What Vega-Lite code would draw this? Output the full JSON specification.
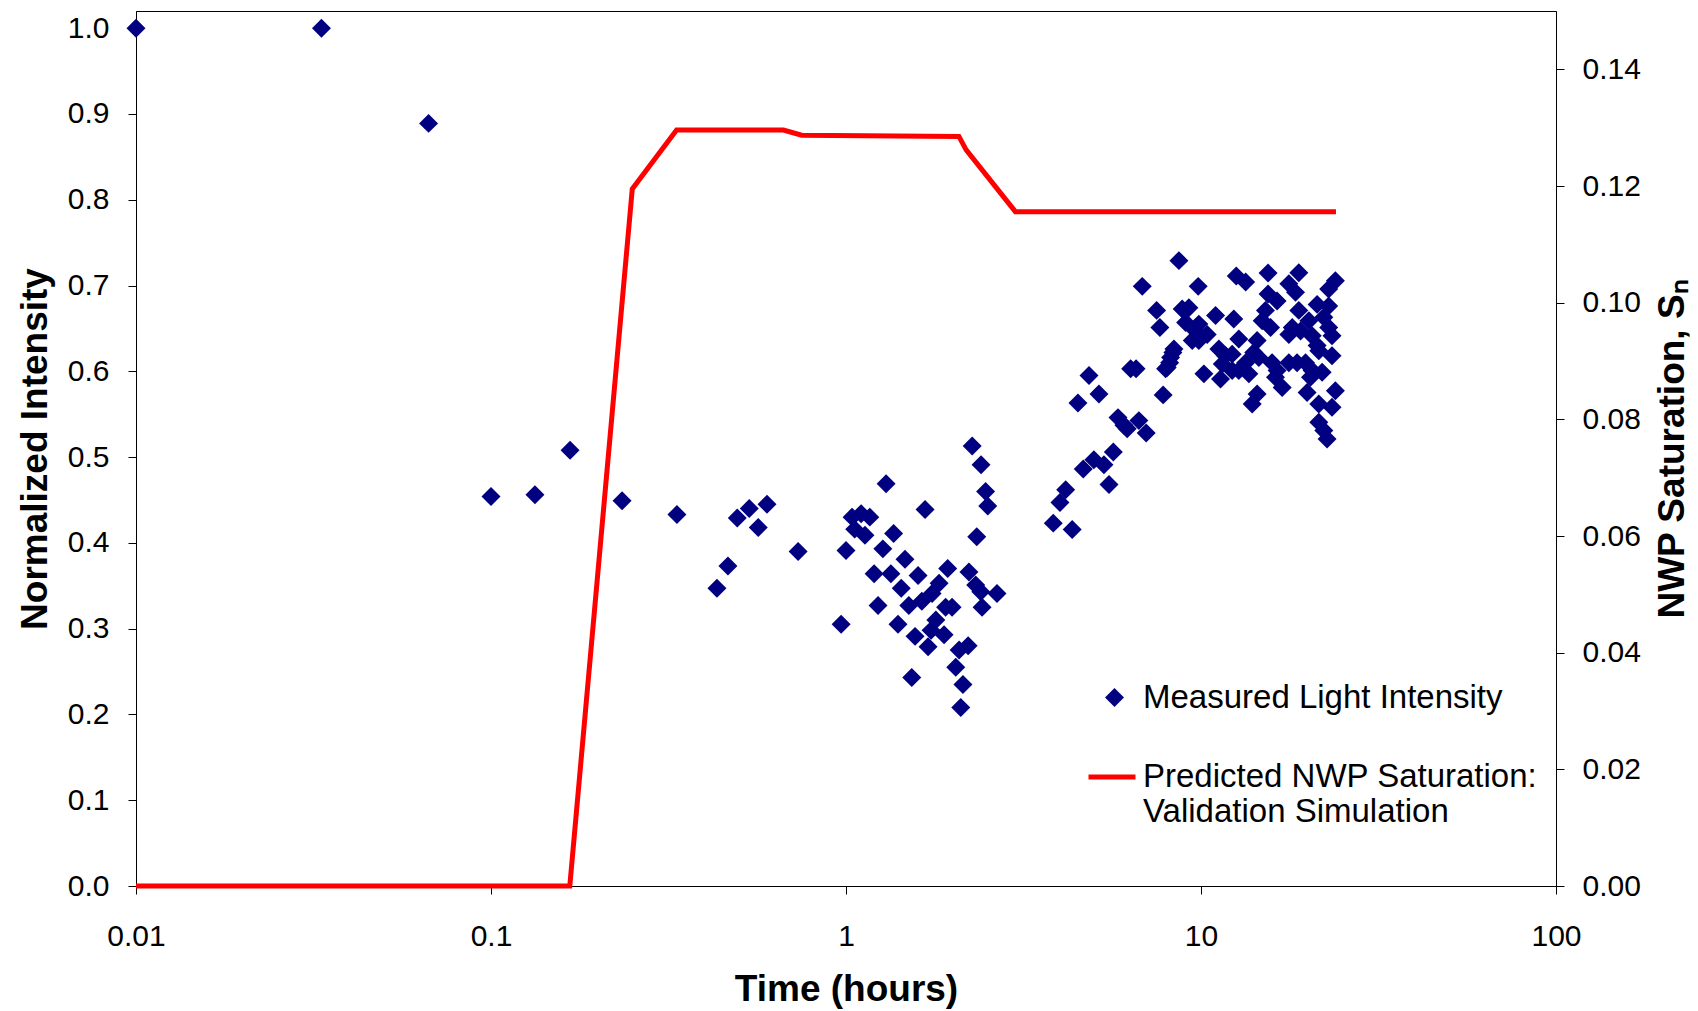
{
  "$schema": "https://vega.github.io/schema/vega-lite/v6.json",
  "width": 1420,
  "height": 875,
  "autosize": "none",
  "padding": {"left": 136, "top": 11, "right": 142, "bottom": 125},
  "background": "white",
  "config": {
    "view": {"stroke": "#000000", "strokeWidth": 1},
    "font": "Liberation Sans",
    "axis": {
      "grid": false,
      "domainColor": "#000000",
      "tickColor": "#000000",
      "labelColor": "#000000",
      "titleColor": "#000000",
      "labelFont": "Liberation Sans",
      "titleFont": "Liberation Sans",
      "labelFontSize": 30,
      "titleFontSize": 37,
      "titleFontWeight": "bold",
      "tickSize": 8,
      "labelFlush": false,
      "labelOverlap": false
    },
    "legend": {
      "labelFont": "Liberation Sans",
      "labelFontSize": 33,
      "labelColor": "#000000",
      "labelLimit": 600,
      "padding": 0
    }
  },
  "datasets": {
    "points": [
      {"t": 0.01, "I": 1.0}, {"t": 0.0333, "I": 1.0}, {"t": 0.0667, "I": 0.889}, {"t": 0.1, "I": 0.454},
      {"t": 0.133, "I": 0.456}, {"t": 0.167, "I": 0.508}, {"t": 0.234, "I": 0.449}, {"t": 0.334, "I": 0.433},
      {"t": 0.494, "I": 0.429}, {"t": 0.534, "I": 0.44}, {"t": 0.599, "I": 0.445}, {"t": 0.566, "I": 0.418},
      {"t": 0.465, "I": 0.373}, {"t": 0.433, "I": 0.347}, {"t": 0.733, "I": 0.39},
      {"t": 0.969, "I": 0.305}, {"t": 1.0, "I": 0.391}, {"t": 1.04, "I": 0.43}, {"t": 1.103, "I": 0.434},
      {"t": 1.167, "I": 0.43}, {"t": 1.131, "I": 0.409}, {"t": 1.058, "I": 0.416}, {"t": 1.297, "I": 0.469},
      {"t": 1.362, "I": 0.411}, {"t": 1.27, "I": 0.393}, {"t": 1.466, "I": 0.381}, {"t": 1.2, "I": 0.364},
      {"t": 1.338, "I": 0.364}, {"t": 1.596, "I": 0.362}, {"t": 1.431, "I": 0.347}, {"t": 1.231, "I": 0.327},
      {"t": 1.503, "I": 0.327}, {"t": 1.635, "I": 0.332}, {"t": 1.934, "I": 0.37}, {"t": 2.22, "I": 0.366},
      {"t": 2.319, "I": 0.351}, {"t": 2.397, "I": 0.343}, {"t": 2.663, "I": 0.341}, {"t": 1.829, "I": 0.353},
      {"t": 1.748, "I": 0.341}, {"t": 2.417, "I": 0.325}, {"t": 1.401, "I": 0.305}, {"t": 1.908, "I": 0.325},
      {"t": 1.99, "I": 0.325}, {"t": 1.791, "I": 0.31}, {"t": 1.736, "I": 0.298}, {"t": 1.565, "I": 0.291},
      {"t": 1.703, "I": 0.279}, {"t": 1.889, "I": 0.293}, {"t": 2.208, "I": 0.28}, {"t": 2.083, "I": 0.275},
      {"t": 2.038, "I": 0.255}, {"t": 1.532, "I": 0.243}, {"t": 2.135, "I": 0.235}, {"t": 2.105, "I": 0.208},
      {"t": 2.267, "I": 0.513}, {"t": 2.401, "I": 0.491}, {"t": 2.473, "I": 0.46}, {"t": 2.508, "I": 0.443},
      {"t": 2.335, "I": 0.407}, {"t": 1.67, "I": 0.439},
      {"t": 3.836, "I": 0.423}, {"t": 4.337, "I": 0.4155}, {"t": 4.006, "I": 0.447}, {"t": 4.157, "I": 0.462},
      {"t": 4.659, "I": 0.486}, {"t": 4.991, "I": 0.497}, {"t": 5.328, "I": 0.491}, {"t": 5.662, "I": 0.506},
      {"t": 5.507, "I": 0.468}, {"t": 5.837, "I": 0.546}, {"t": 6.066, "I": 0.537}, {"t": 6.196, "I": 0.533},
      {"t": 6.683, "I": 0.5425}, {"t": 7.009, "I": 0.528}, {"t": 4.502, "I": 0.563}, {"t": 4.836, "I": 0.595},
      {"t": 5.159, "I": 0.5735}, {"t": 6.336, "I": 0.603}, {"t": 6.563, "I": 0.603}, {"t": 7.823, "I": 0.5725},
      {"t": 7.95, "I": 0.603}, {"t": 8.159, "I": 0.61}, {"t": 8.332, "I": 0.622}, {"t": 6.831, "I": 0.699},
      {"t": 7.499, "I": 0.671}, {"t": 7.658, "I": 0.651}, {"t": 8.666, "I": 0.729},
      {"t": 9.82, "I": 0.699}, {"t": 12.57, "I": 0.711}, {"t": 13.36, "I": 0.704}, {"t": 15.45, "I": 0.7145},
      {"t": 18.86, "I": 0.715}, {"t": 17.68, "I": 0.702}, {"t": 18.46, "I": 0.692}, {"t": 23.91, "I": 0.7055},
      {"t": 22.89, "I": 0.696}, {"t": 15.45, "I": 0.69}, {"t": 16.38, "I": 0.682}, {"t": 21.24, "I": 0.678},
      {"t": 22.89, "I": 0.676}, {"t": 8.851, "I": 0.6725}, {"t": 9.245, "I": 0.674}, {"t": 9.051, "I": 0.657},
      {"t": 9.86, "I": 0.655}, {"t": 9.656, "I": 0.647}, {"t": 10.41, "I": 0.643}, {"t": 9.447, "I": 0.636},
      {"t": 9.86, "I": 0.636}, {"t": 10.99, "I": 0.665}, {"t": 12.37, "I": 0.661}, {"t": 12.78, "I": 0.6376},
      {"t": 15.19, "I": 0.671}, {"t": 14.87, "I": 0.659}, {"t": 15.7, "I": 0.651}, {"t": 18.86, "I": 0.671},
      {"t": 20.13, "I": 0.659}, {"t": 18.07, "I": 0.651}, {"t": 17.68, "I": 0.643}, {"t": 19.08, "I": 0.647},
      {"t": 22.18, "I": 0.663}, {"t": 22.89, "I": 0.651}, {"t": 23.39, "I": 0.6415}, {"t": 20.57, "I": 0.6415},
      {"t": 21.24, "I": 0.63}, {"t": 14.39, "I": 0.636}, {"t": 14.08, "I": 0.622}, {"t": 14.55, "I": 0.616},
      {"t": 8.39, "I": 0.626}, {"t": 8.21, "I": 0.616}, {"t": 8.03, "I": 0.6045}, {"t": 11.23, "I": 0.626},
      {"t": 11.73, "I": 0.618}, {"t": 12.24, "I": 0.62}, {"t": 11.48, "I": 0.6085}, {"t": 12.24, "I": 0.601},
      {"t": 11.35, "I": 0.591}, {"t": 10.19, "I": 0.597}, {"t": 13.36, "I": 0.61}, {"t": 13.64, "I": 0.597},
      {"t": 12.78, "I": 0.601}, {"t": 15.86, "I": 0.61}, {"t": 16.38, "I": 0.601}, {"t": 16.21, "I": 0.593},
      {"t": 16.93, "I": 0.581}, {"t": 17.68, "I": 0.61}, {"t": 18.65, "I": 0.61}, {"t": 19.7, "I": 0.61},
      {"t": 20.57, "I": 0.601}, {"t": 21.94, "I": 0.599}, {"t": 20.34, "I": 0.593}, {"t": 21.47, "I": 0.624},
      {"t": 23.39, "I": 0.618}, {"t": 23.91, "I": 0.5774}, {"t": 19.9, "I": 0.5754}, {"t": 21.47, "I": 0.562},
      {"t": 23.39, "I": 0.558}, {"t": 14.39, "I": 0.5735}, {"t": 13.94, "I": 0.562}, {"t": 21.47, "I": 0.5405},
      {"t": 22.18, "I": 0.531}, {"t": 22.65, "I": 0.521}
    ],
    "line": [
      {"t": 0.01, "S": 0.0}, {"t": 0.1667, "S": 0.0}, {"t": 0.25, "S": 0.1195}, {"t": 0.3333, "S": 0.1296},
      {"t": 0.6667, "S": 0.1296}, {"t": 0.75, "S": 0.1287}, {"t": 2.08, "S": 0.1285}, {"t": 2.18, "S": 0.1262},
      {"t": 3.0, "S": 0.1156}, {"t": 24.0, "S": 0.1156}
    ]
  },
  "layer": [
    {
      "data": {"name": "points"},
      "mark": {"type": "point", "shape": "diamond", "filled": true, "size": 360, "opacity": 1, "strokeWidth": 0},
      "encoding": {
        "x": {
          "field": "t", "type": "quantitative",
          "scale": {"type": "log", "domain": [0.01, 100], "nice": false},
          "axis": {
            "values": [0.01, 0.1, 1, 10, 100], "format": "~g", "title": "Time (hours)",
            "labelPadding": 27, "titleY": 103, "titleBaseline": "middle"
          }
        },
        "y": {
          "field": "I", "type": "quantitative",
          "scale": {"domain": [0, 1.02], "nice": false, "zero": true},
          "axis": {
            "values": [0, 0.1, 0.2, 0.3, 0.4, 0.5, 0.6, 0.7, 0.8, 0.9, 1.0], "format": ".1f",
            "title": "Normalized Intensity", "labelPadding": 19, "titleX": -101, "titleBaseline": "middle", "titleAngle": 270
          }
        },
        "color": {
          "datum": "Measured Light Intensity",
          "scale": {"range": ["#000080"]},
          "legend": {
            "orient": "none", "legendX": 962, "legendY": 670, "title": null,
            "symbolType": "diamond", "symbolSize": 360, "symbolStrokeWidth": 0, "labelOffset": 12
          }
        }
      }
    },
    {
      "data": {"name": "line"},
      "mark": {"type": "line", "strokeWidth": 5, "color": "#FF0000"},
      "encoding": {
        "x": {"field": "t", "type": "quantitative"},
        "y": {
          "field": "S", "type": "quantitative",
          "scale": {"domain": [0, 0.15], "nice": false, "zero": true},
          "axis": {
            "orient": "right", "values": [0, 0.02, 0.04, 0.06, 0.08, 0.1, 0.12, 0.14], "format": ".2f",
            "title": "NWP Saturation, Sₙ", "labelPadding": 18, "titleX": 116, "titleBaseline": "middle", "titleAngle": 270
          }
        },
        "stroke": {
          "datum": "Predicted NWP Saturation:|Validation Simulation",
          "scale": {"range": ["#FF0000"]},
          "legend": {
            "orient": "none", "legendX": 950, "legendY": 740, "title": null,
            "symbolType": "stroke", "symbolSize": 2209, "symbolStrokeWidth": 5, "labelOffset": 5,
            "labelExpr": "split(datum.label, '|')"
          }
        }
      }
    }
  ],
  "resolve": {"scale": {"y": "independent"}}
}
